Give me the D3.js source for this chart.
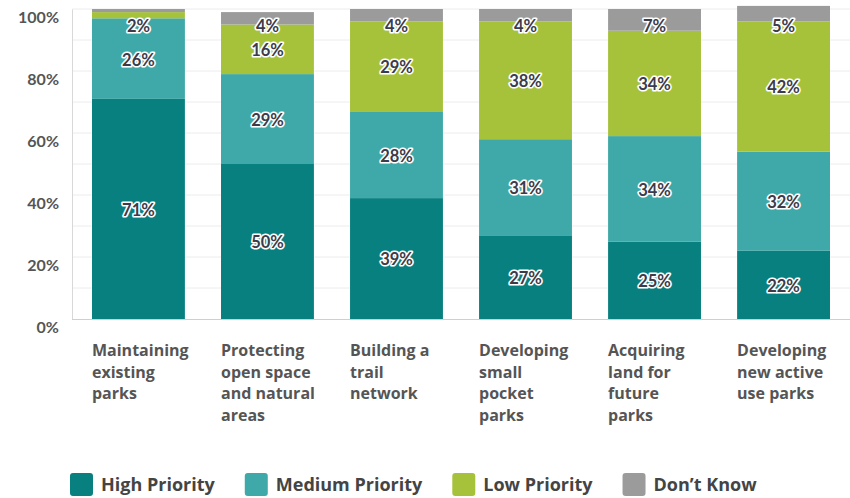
<!DOCTYPE html>
<html>
<head>
<meta charset="utf-8">
<script src="https://cdn.jsdelivr.net/npm/d3@7"></script>
<style>
  html, body { margin: 0; padding: 0; background: #fff; }
  svg { display: block; }
</style>
</head>
<body>
<svg id="chart" width="850" height="498"></svg>
<script>
// Survey: priority of park investments (percent of respondents)
const categories = [
  "Maintaining existing parks",
  "Protecting open space and natural areas",
  "Building a trail network",
  "Developing small pocket parks",
  "Acquiring land for future parks",
  "Developing new active use parks"
];
const categoryLines = [
  ["Maintaining", "existing", "parks"],
  ["Protecting", "open space", "and natural", "areas"],
  ["Building a", "trail", "network"],
  ["Developing", "small", "pocket", "parks"],
  ["Acquiring", "land for", "future", "parks"],
  ["Developing", "new active", "use parks"]
];
const seriesNames = ["High Priority", "Medium Priority", "Low Priority", "Don\u2019t Know"];
const highPriority   = [71, 50, 39, 27, 25, 22];
const mediumPriority = [26, 29, 28, 31, 34, 32];
const lowPriority    = [2, 16, 29, 38, 34, 42];
const dontKnow       = [1, 4, 4, 4, 7, 5];
// which segments carry a value label (the 1% sliver in the first bar does not)
const showLabel = [
  [true, true, true, false],
  [true, true, true, true],
  [true, true, true, true],
  [true, true, true, true],
  [true, true, true, true],
  [true, true, true, true]
];
const yTicks = [0, 20, 40, 60, 80, 100];
const colors = ["#08807f", "#3ea9a8", "#a6c23a", "#9b9b9b"];

const svg = d3.select("#chart");
const plot = { left: 72, right: 850, top: 9, bottom: 319 };

const rows = categories.map((c, i) => ({
  key: c, i,
  s0: highPriority[i], s1: mediumPriority[i], s2: lowPriority[i], s3: dontKnow[i]
}));
const keys = ["s0", "s1", "s2", "s3"];
const stacked = d3.stack().keys(keys)(rows);

const x = d3.scaleBand()
  .domain(categories)
  .range([plot.left, plot.right])
  .paddingInner(0.28)
  .paddingOuter(0.155);
const y = d3.scaleLinear().domain([0, 100]).range([plot.bottom, plot.top]);

// light horizontal gridlines every 10%
svg.append("g")
  .selectAll("line")
  .data(d3.range(10, 101, 10))
  .join("line")
  .attr("x1", plot.left).attr("x2", plot.right)
  .attr("y1", d => y(d)).attr("y2", d => y(d))
  .attr("stroke", "#ececec").attr("stroke-width", 1);

// y axis
const yAxis = svg.append("g")
  .attr("transform", `translate(${plot.left},0)`)
  .call(d3.axisLeft(y).tickValues(yTicks).tickFormat(d => d + "%").tickSize(0).tickPadding(13));
yAxis.select(".domain").attr("stroke", "#d8d8d8");
yAxis.selectAll("text")
  .attr("dy", "0.32em")
  .attr("transform", "translate(0,8)")
  .attr("fill", "#555")
  .style("font-family", "Lato, 'Open Sans', sans-serif")
  .style("font-weight", "700")
  .style("font-size", "16px");

// x baseline
svg.append("line")
  .attr("x1", plot.left).attr("x2", plot.right)
  .attr("y1", y(0) + 0.5).attr("y2", y(0) + 0.5)
  .attr("stroke", "#cfcfcf").attr("stroke-width", 1);

// stacked bars
const layers = svg.append("g").selectAll("g")
  .data(stacked)
  .join("g")
  .attr("fill", (d, k) => colors[k]);
layers.selectAll("rect")
  .data(d => d)
  .join("rect")
  .attr("x", d => x(d.data.key))
  .attr("width", x.bandwidth())
  .attr("y", d => y(d[1]))
  .attr("height", d => y(d[0]) - y(d[1]));

// value labels with a white halo
const labelG = svg.append("g")
  .style("font-family", "Lato, 'Open Sans', sans-serif")
  .style("font-weight", "700")
  .style("font-size", "16.5px")
  .attr("text-anchor", "middle");
stacked.forEach((layer, k) => {
  layer.forEach(d => {
    if (!showLabel[d.data.i][k]) return;
    const v = d[1] - d[0];
    const cy = Math.max((y(d[0]) + y(d[1])) / 2 + 1, 26);
    labelG.append("text")
      .attr("x", x(d.data.key) + x.bandwidth() / 2)
      .attr("y", cy)
      .attr("dy", "0.36em")
      .attr("fill", "#3b3b4a")
      .attr("stroke", "#ffffff")
      .attr("stroke-width", 3.2)
      .attr("stroke-linejoin", "round")
      .attr("paint-order", "stroke")
      .text(v + "%");
  });
});

// category labels, left aligned under each bar
const catG = svg.append("g")
  .style("font-family", "'Open Sans', sans-serif")
  .style("font-weight", "700")
  .style("font-size", "16px")
  .attr("fill", "#555");
categories.forEach((c, i) => {
  const t = catG.append("text")
    .attr("x", x(c))
    .attr("y", 356);
  categoryLines[i].forEach((line, j) => {
    t.append("tspan")
      .attr("x", x(c))
      .attr("dy", j === 0 ? 0 : 21.5)
      .text(line);
  });
});

// legend
const legend = svg.append("g").attr("transform", "translate(70,473)");
let lx = 0;
seriesNames.forEach((name, k) => {
  const item = legend.append("g").attr("transform", `translate(${lx},0)`);
  item.append("rect")
    .attr("width", 23).attr("height", 23)
    .attr("rx", 3).attr("ry", 3)
    .attr("fill", colors[k]);
  const t = item.append("text")
    .attr("x", 31).attr("y", 11.5).attr("dy", "0.36em")
    .attr("fill", "#444")
    .style("font-family", "'Open Sans', sans-serif")
    .style("font-weight", "700")
    .style("font-size", "18px")
    .text(name);
  lx += 31 + t.node().getComputedTextLength() + 30;
});
</script>
</body>
</html>
